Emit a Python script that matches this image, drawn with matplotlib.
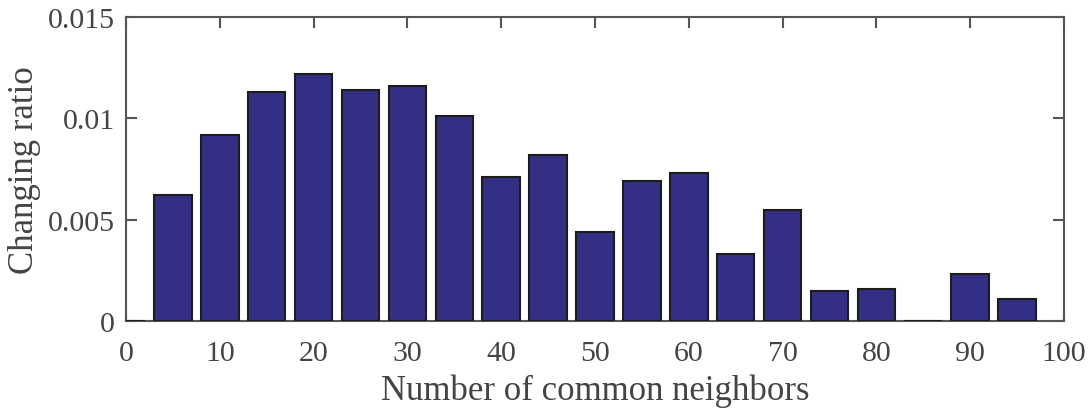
import numpy as np
import matplotlib
matplotlib.use("Agg")
from matplotlib import pyplot as plt

# bar centers and heights
neighbors = [0, 5, 10, 15, 20, 25, 30, 35, 40, 45, 50, 55, 60, 65, 70, 75, 80, 85, 90, 95]
ratio = [0.0, 0.0062, 0.0092, 0.0113, 0.0122, 0.0114, 0.0116, 0.0101, 0.0071, 0.0082,
         0.0044, 0.0069, 0.0073, 0.0033, 0.0055, 0.0015, 0.0016, 0.0, 0.0023, 0.0011]

xticks = [0, 10, 20, 30, 40, 50, 60, 70, 80, 90, 100]
yticks = [0, 0.005, 0.01, 0.015]
yticklabels = ["0", "0.005", "0.01", "0.015"]

plt.rcParams["font.family"] = ["Liberation Serif", "DejaVu Serif"]

fig = plt.figure(figsize=(10.91, 4.10), dpi=100)
ax = fig.add_axes([0.1155, 0.2146, 0.8597, 0.7415])

ax.bar(neighbors, ratio, width=4, color="#332f85", edgecolor="#1c1c1c", linewidth=1.5, zorder=3)

ax.set_xlim(0, 100)
ax.set_ylim(0, 0.015)
ax.set_xticks(xticks)
ax.set_yticks(yticks)
ax.set_yticklabels(yticklabels)

for s in ax.spines.values():
	s.set_color("#555555")
	s.set_linewidth(1.5)

ax.tick_params(direction="in", length=8, width=1.5, color="#555555", labelcolor="#444444",
	labelsize=21.5, top=True, right=True)
ax.tick_params(axis="x", pad=14)
ax.tick_params(axis="y", pad=8)

ax.set_xlabel("Number of common neighbors", fontsize=25, color="#444444", labelpad=5)
ax.set_ylabel("Changing ratio", fontsize=25, color="#444444", labelpad=5)

fig.savefig("out.png", dpi=100)
